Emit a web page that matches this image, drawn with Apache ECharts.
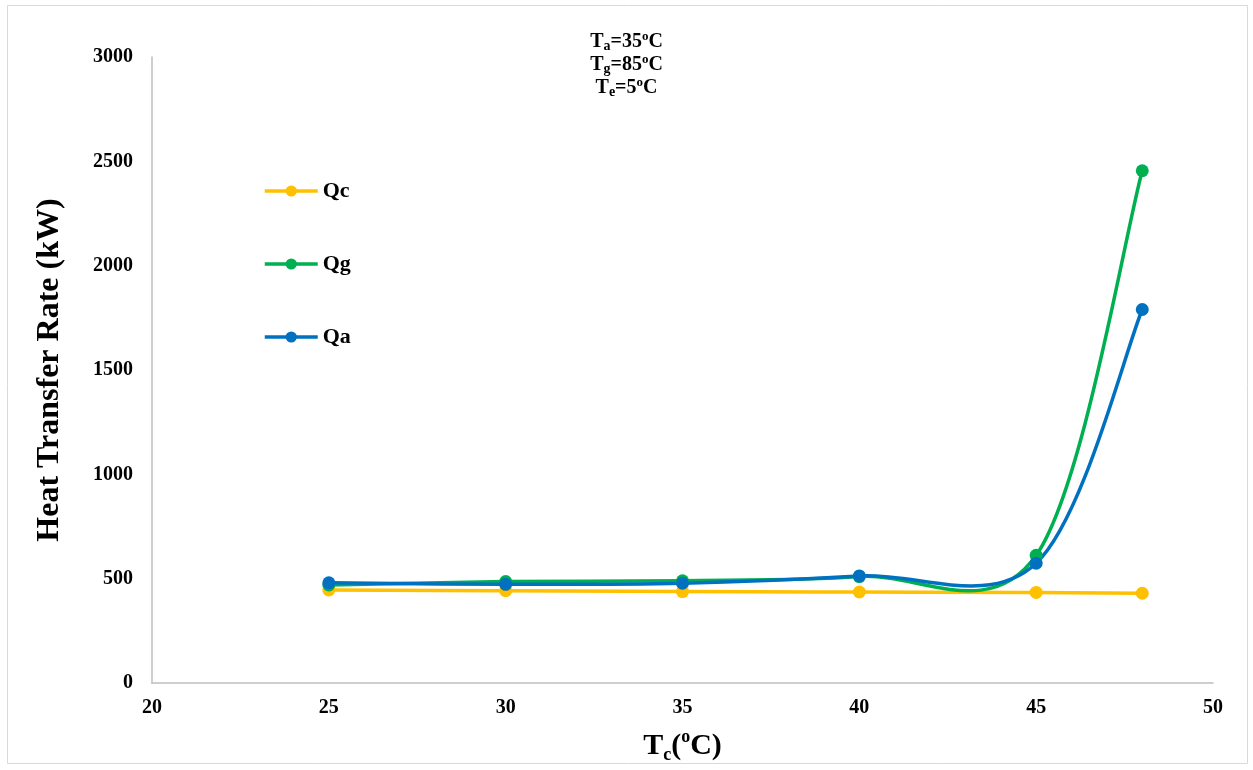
<!DOCTYPE html>
<html>
<head>
<meta charset="utf-8">
<script src="https://cdn.jsdelivr.net/npm/echarts@6/dist/echarts.min.js"></script>
<style>
  html, body { margin: 0; padding: 0; background: #fff; }
  #chart { width: 1253px; height: 770px; }
</style>
</head>
<body>
<div id="chart"></div>
<script>
// Condenser temperature (°C)
const tc = [25, 30, 35, 40, 45, 48];
// Heat transfer rates (kW)
const qc = [446, 442, 438, 436, 434, 430];
const qg = [470, 486, 490, 510, 612, 2455];
const qa = [480, 473, 478, 513, 574, 1790];

const seriesNames = ['Qc', 'Qg', 'Qa'];
const seriesColors = ['#FFC000', '#00B050', '#0070C0'];
const seriesData = [qc, qg, qa];

const serif = '"Liberation Serif", "Times New Roman", serif';
const LINE_W = 3.5;

const chart = echarts.init(document.getElementById('chart'));

const sub = (size) => ({ fontFamily: serif, fontWeight: 'bold', fontSize: size, verticalAlign: 'bottom', color: '#000' });
const sup = (size) => ({ fontFamily: serif, fontWeight: 'bold', fontSize: size, verticalAlign: 'top', color: '#000' });
const main = (size) => ({ fontFamily: serif, fontWeight: 'bold', fontSize: size, color: '#000' });

// Spreadsheet-style smoothed curve: one cubic Bezier per segment, control
// points taken from the neighbouring points (Catmull-Rom, factor 1/6),
// all positions obtained from the axes through api.coord.
function curveSeries(values, color) {
  return {
    type: 'custom',
    name: '',
    z: 2,
    silent: true,
    data: tc.map((x, k) => [x, values[k]]),
    renderItem: function (params, api) {
      const i = params.dataIndex;
      if (i === 0) return { type: 'group', children: [] };
      const pts = tc.map((x, k) => api.coord([x, values[k]]));
      const p0 = pts[Math.max(i - 2, 0)];
      const p1 = pts[i - 1];
      const p2 = pts[i];
      const p3 = pts[Math.min(i + 1, pts.length - 1)];
      return {
        type: 'bezierCurve',
        shape: {
          x1: p1[0], y1: p1[1],
          cpx1: p1[0] + (p2[0] - p0[0]) / 6,
          cpy1: p1[1] + (p2[1] - p0[1]) / 6,
          cpx2: p2[0] - (p3[0] - p1[0]) / 6,
          cpy2: p2[1] - (p3[1] - p1[1]) / 6,
          x2: p2[0], y2: p2[1]
        },
        style: { fill: 'none', stroke: color, lineWidth: LINE_W, lineCap: 'round' }
      };
    }
  };
}

chart.setOption({
  backgroundColor: '#fff',
  animation: false,
  title: {
    left: 'center',
    top: 25,
    text: '{m|T}{s|a}{m|=35}{p|o}{m|C}\n{m|T}{s|g}{m|=85}{p|o}{m|C}\n{m|T}{s|e}{m|=5}{p|o}{m|C}',
    textStyle: {
      lineHeight: 23,
      rich: {
        m: Object.assign(main(20), { lineHeight: 23 }),
        s: Object.assign(sub(14), { lineHeight: 23 }),
        p: Object.assign(sup(13), { lineHeight: 23 })
      }
    }
  },
  graphic: [{
    type: 'rect',
    shape: { x: 7.5, y: 5.5, width: 1240, height: 758 },
    style: { fill: 'none', stroke: '#d9d9d9', lineWidth: 1 },
    silent: true
  }],
  legend: {
    orient: 'vertical',
    left: 258,
    top: 175,
    itemGap: 51,
    itemWidth: 53,
    itemHeight: 14,
    lineStyle: { opacity: 1, width: LINE_W },
    textStyle: { fontFamily: serif, fontWeight: 'bold', fontSize: 22, color: '#000' },
    data: seriesNames
  },
  grid: { left: 152, right: 40, top: 57, bottom: 87, outerBoundsMode: 'none', containLabel: false },
  xAxis: {
    type: 'value',
    min: 20,
    max: 50,
    interval: 5,
    splitLine: { show: false },
    axisTick: { show: false },
    axisLine: { show: true, lineStyle: { color: '#bfbfbf', width: 1.5 } },
    axisLabel: { margin: 15, fontFamily: serif, fontWeight: 'bold', fontSize: 20, color: '#000' },
    name: '{m|T}{s|c}{m|(}{p|o}{m|C)}',
    nameLocation: 'middle',
    nameGap: 45,
    nameTextStyle: {
      rich: {
        m: Object.assign(main(30), { lineHeight: 36 }),
        s: Object.assign(sub(18), { lineHeight: 36 }),
        p: Object.assign(sup(18), { lineHeight: 36 })
      }
    }
  },
  yAxis: {
    type: 'value',
    min: 0,
    max: 3000,
    interval: 500,
    splitLine: { show: false },
    axisTick: { show: false },
    axisLine: { show: true, lineStyle: { color: '#bfbfbf', width: 1.5 } },
    axisLabel: { margin: 19, fontFamily: serif, fontWeight: 'bold', fontSize: 20, color: '#000', formatter: (v) => String(v) },
    name: 'Heat Transfer Rate (kW)',
    nameLocation: 'middle',
    nameGap: 86,
    nameTextStyle: { fontFamily: serif, fontWeight: 'bold', fontSize: 32, color: '#000' }
  },
  series: seriesNames.map((name, i) => ({
    name: name,
    type: 'line',
    z: 3,
    symbol: 'circle',
    symbolSize: 13,
    color: seriesColors[i],
    lineStyle: { width: LINE_W, color: seriesColors[i], opacity: 0 },
    itemStyle: { color: seriesColors[i] },
    data: tc.map((x, k) => [x, seriesData[i][k]])
  })).concat(seriesData.map((vals, i) => curveSeries(vals, seriesColors[i])))
});
</script>
</body>
</html>
